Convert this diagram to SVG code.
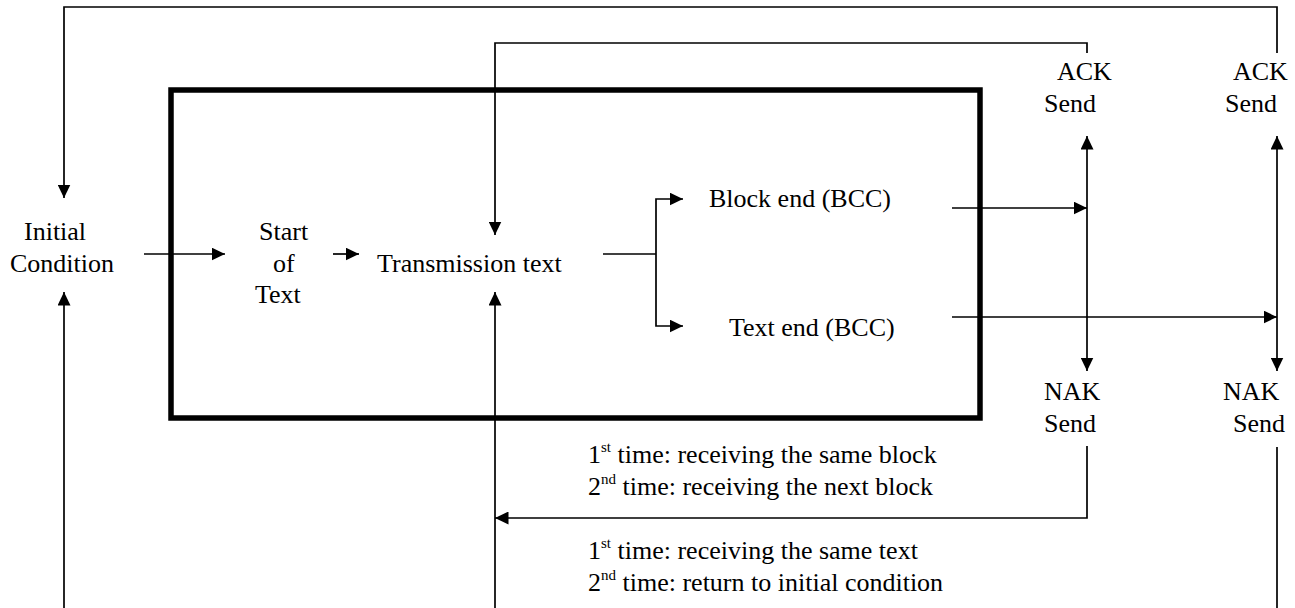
<svg xmlns="http://www.w3.org/2000/svg" width="1295" height="608" viewBox="0 0 1295 608">
  <style>
    text { font-family: "Liberation Serif", "Times New Roman", serif; font-size: 26px; fill: #000; }
    .ln { fill: none; stroke: #000; stroke-width: 1.7; }
    .frame { fill: none; stroke: #000; stroke-width: 5.5; }
    .sup { font-size: 15px; }
  </style>
  <defs>
    <marker id="arr" markerUnits="userSpaceOnUse" markerWidth="14" markerHeight="13" viewBox="0 0 14 13" refX="13.5" refY="6.5" orient="auto-start-reverse">
      <path d="M0,0 L13.5,6.5 L0,13 z" fill="#000"/>
    </marker>
  </defs>
  <rect width="1295" height="608" fill="#fff"/>

  <g id="frame">
    <rect class="frame" x="171" y="90" width="809" height="328"/>
  </g>

  <g id="connectors">
    <path class="ln" d="M1277,53 V7 H64 V198" marker-end="url(#arr)"/>
    <path class="ln" d="M1087,53 V43 H495 V235" marker-end="url(#arr)"/>
    <path class="ln" d="M144,254 H225" marker-end="url(#arr)"/>
    <path class="ln" d="M333,254 H359" marker-end="url(#arr)"/>
    <path class="ln" d="M603,254 H656"/>
    <path class="ln" d="M656,254 V199 H683" marker-end="url(#arr)"/>
    <path class="ln" d="M656,254 V326 H683" marker-end="url(#arr)"/>
    <path class="ln" d="M952,208 H1087" marker-end="url(#arr)"/>
    <path class="ln" d="M1087,136 V371" marker-start="url(#arr)" marker-end="url(#arr)"/>
    <path class="ln" d="M952,317 H1277" marker-end="url(#arr)"/>
    <path class="ln" d="M1277,136 V371" marker-start="url(#arr)" marker-end="url(#arr)"/>
    <path class="ln" d="M1087,446 V518 H495" marker-end="url(#arr)"/>
    <path class="ln" d="M1277,447 V608"/>
    <path class="ln" d="M64,608 V292" marker-end="url(#arr)"/>
    <path class="ln" d="M495,608 V292" marker-end="url(#arr)"/>
  </g>

  <g id="initial-condition">
    <text x="24" y="240">Initial</text>
    <text x="10" y="272">Condition</text>
  </g>
  <g id="start-of-text">
    <text x="259" y="240">Start</text>
    <text x="273" y="272">of</text>
    <text x="255" y="303">Text</text>
  </g>
  <g id="transmission-text">
    <text x="377" y="272">Transmission text</text>
  </g>
  <g id="block-end">
    <text x="709" y="207">Block end (BCC)</text>
  </g>
  <g id="text-end">
    <text x="729" y="336">Text end (BCC)</text>
  </g>
  <g id="ack-send-1">
    <text x="1057" y="80">ACK</text>
    <text x="1044" y="112">Send</text>
  </g>
  <g id="ack-send-2">
    <text x="1233" y="80">ACK</text>
    <text x="1225" y="112">Send</text>
  </g>
  <g id="nak-send-1">
    <text x="1044" y="400">NAK</text>
    <text x="1044" y="432">Send</text>
  </g>
  <g id="nak-send-2">
    <text x="1223" y="400">NAK</text>
    <text x="1233" y="432">Send</text>
  </g>
  <g id="block-note">
    <text x="588" y="463">1<tspan class="sup" dy="-11">st</tspan><tspan dy="11"> time: receiving the same block</tspan></text>
    <text x="588" y="495">2<tspan class="sup" dy="-11">nd</tspan><tspan dy="11"> time: receiving the next block</tspan></text>
  </g>
  <g id="text-note">
    <text x="588" y="559">1<tspan class="sup" dy="-11">st</tspan><tspan dy="11"> time: receiving the same text</tspan></text>
    <text x="588" y="591">2<tspan class="sup" dy="-11">nd</tspan><tspan dy="11"> time: return to initial condition</tspan></text>
  </g>
</svg>
